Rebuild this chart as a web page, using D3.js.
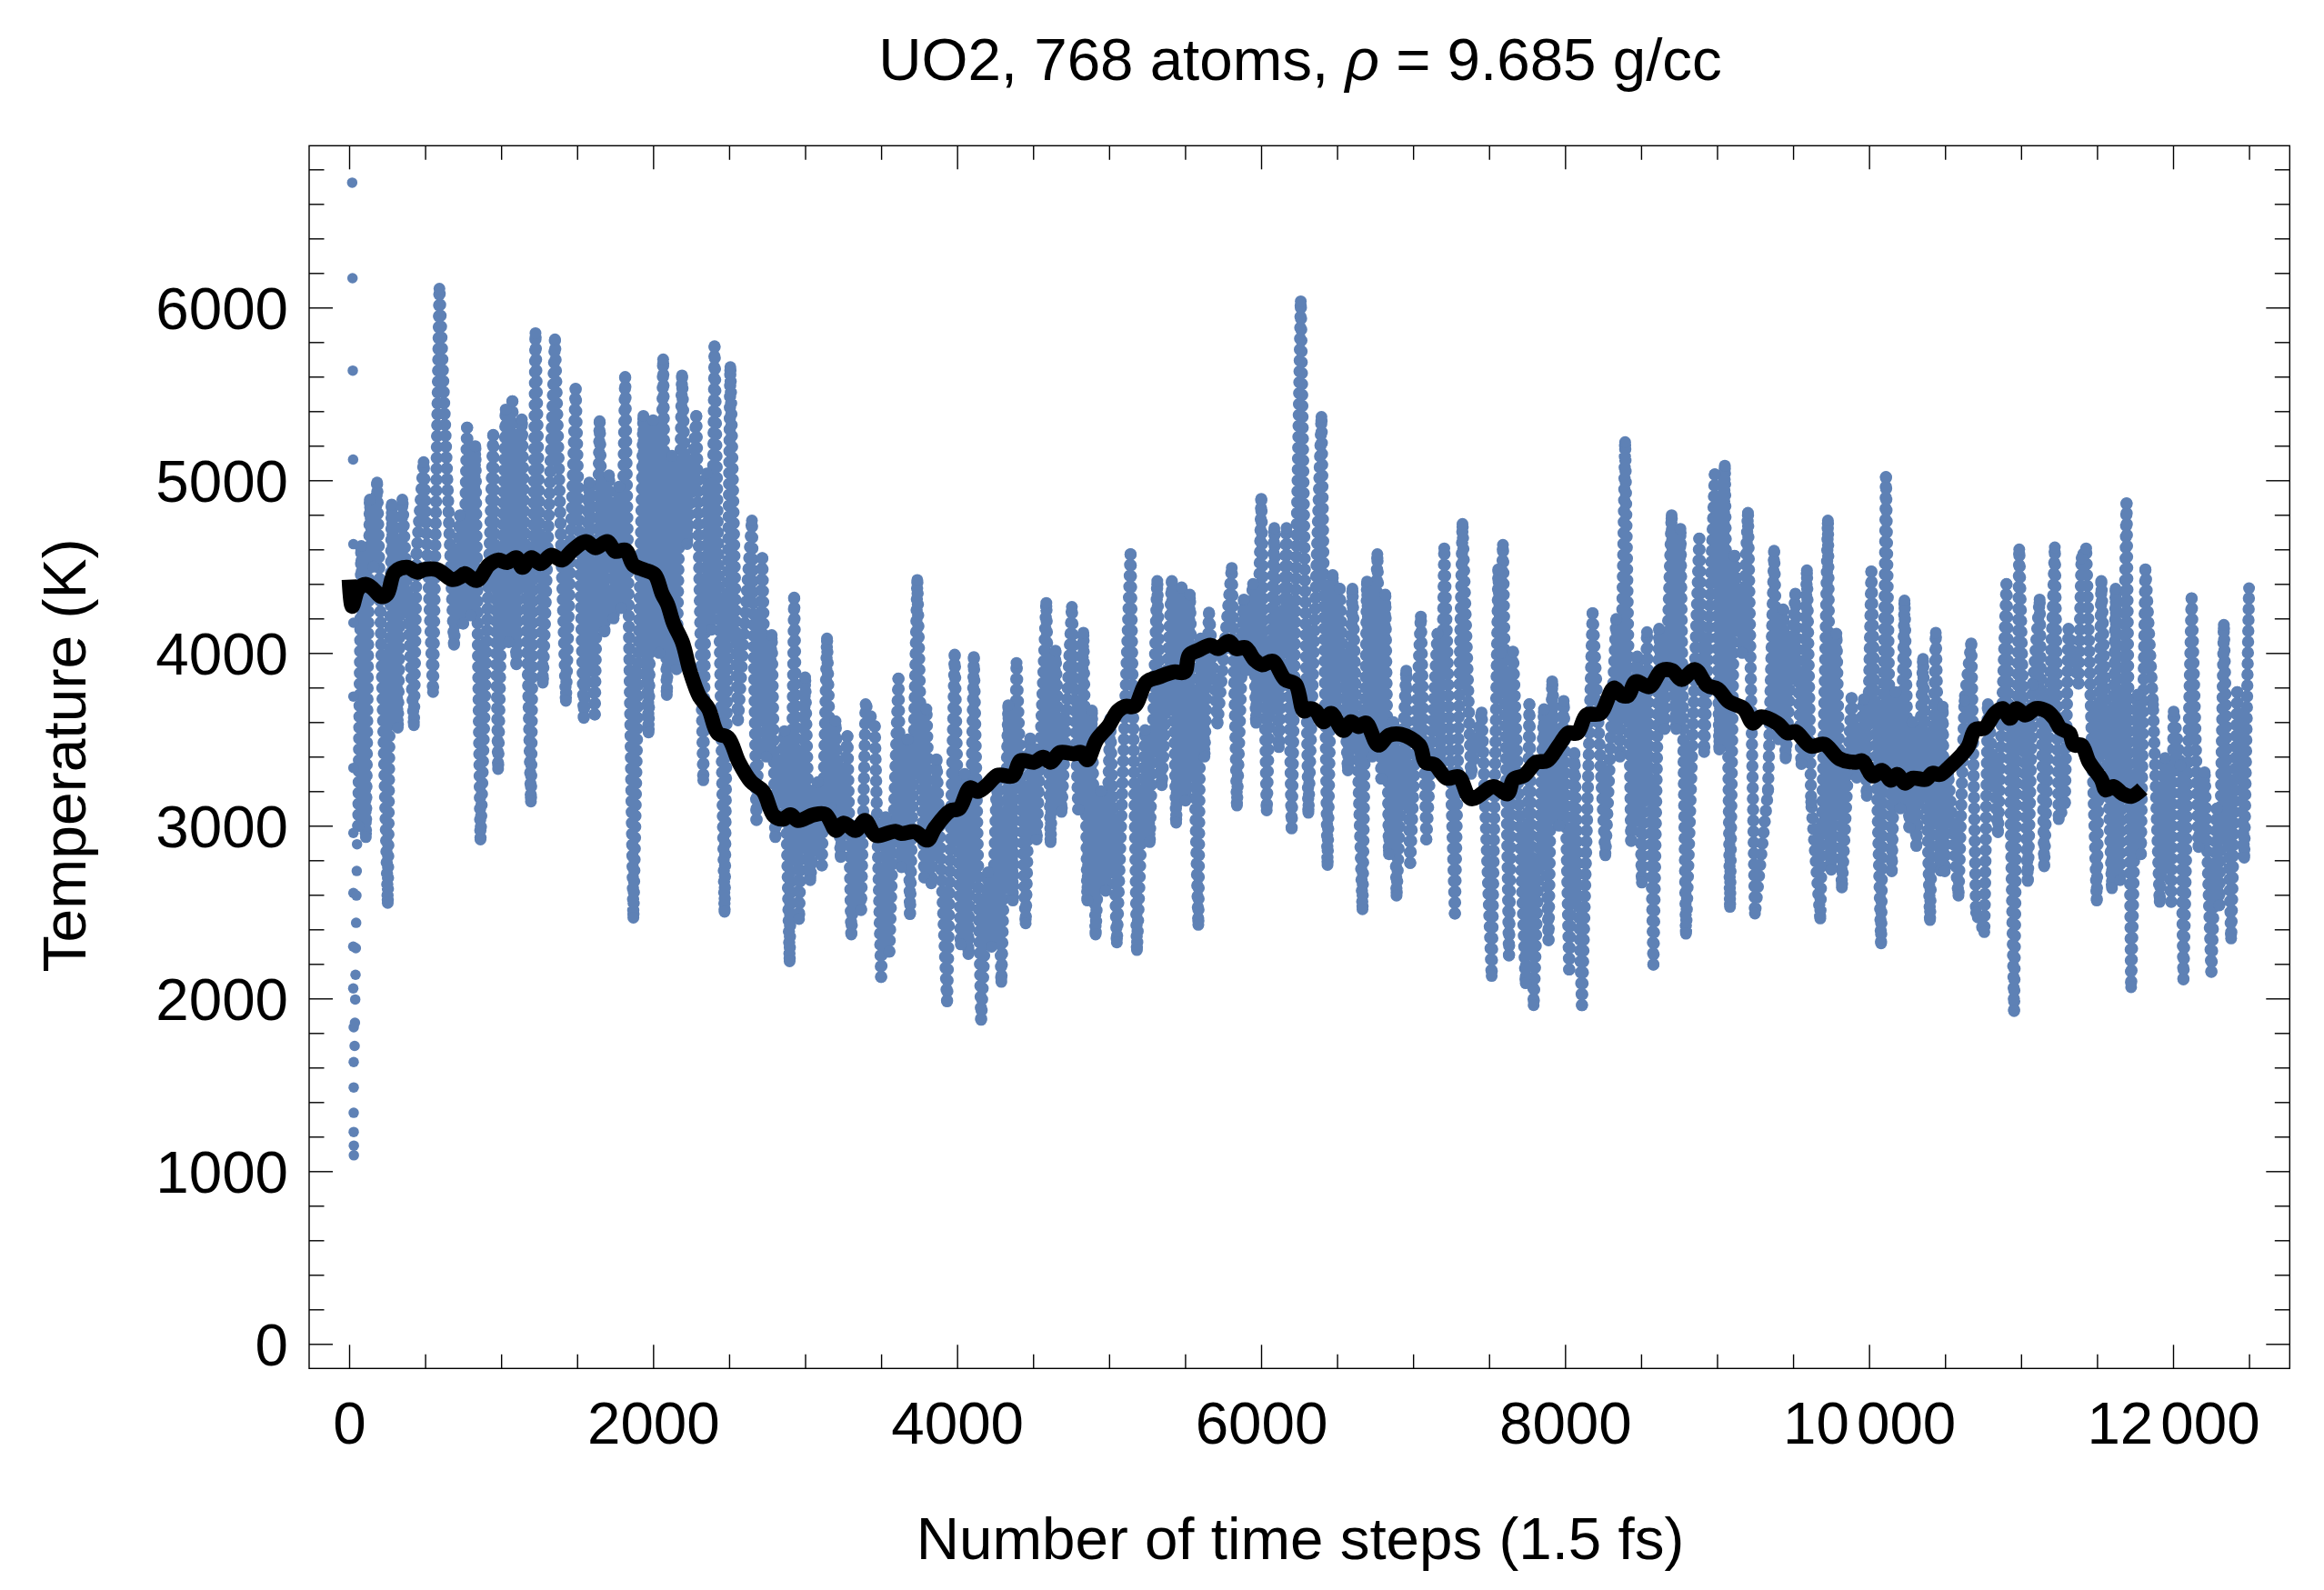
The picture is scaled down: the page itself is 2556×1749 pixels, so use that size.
<!DOCTYPE html>
<html><head><meta charset="utf-8">
<script src="https://cdn.jsdelivr.net/npm/d3@7"></script>
<style>html,body{margin:0;background:#fff}svg{display:block}text{font-family:"Liberation Sans",Arial,sans-serif;fill:#000}</style>
</head><body><svg id="c" width="2556" height="1749"></svg>
<script>
const titleText = ["UO2, 768 atoms, ", "ρ", " = 9.685 g/cc"];
const xLabel = "Number of time steps (1.5 fs)";
const yLabel = "Temperature (K)";
const xMajor = [0,2000,4000,6000,8000,10000,12000];
const xMinor = [500,1000,1500,2500,3000,3500,4500,5000,5500,6500,7000,7500,8500,9000,9500,10500,11000,11500,12500];
const yMajor = [0,1000,2000,3000,4000,5000,6000];
const yMinor = [200,400,600,800,1200,1400,1600,1800,2200,2400,2600,2800,3200,3400,3600,3800,4200,4400,4600,4800,5200,5400,5600,5800,6200,6400,6600,6800];

// isolated points at the start of the run
const startX = [20,22,24,26,28,28,28,28,28,28,27,27,30,30,30,30,30,31,31,36,38,40,42,44,46,48,50,52];
const startY = [6723,6170,5635,5120,4630,4175,3748,3335,2958,2611,2300,2058,1833,1632,1485,1338,1227,1148,1092,1725,1859,1994,2137,2291,2438,2596,2738,2893];

// turning points of the temperature trace
const stepX = [60,80,110,136,160,184,254,280,320,350,426,444,490,552,594,690,730,750,776,800,830,864,948,980,1030,1050,1074,1100,1136,1196,1226,1274,1354,1426,1490,1544,1580,1616,1648,1680,1710,1740,1776,1790,1816,1870,1936,1970,2000,2040,2066,2090,
2124,2154,2190,2224,2284,2330,2354,2384,2404,2470,2508,2558,2650,2680,2718,2744,2780,2804,2864,2898,2928,2960,3000,3034,3084,3110,3144,3174,3200,3234,3278,3304,3334,3368,3398,3458,3500,3530,3554,3614,3634,3674,3690,3738,3784,3798,3830,3864,3934,3984,4024,4050,4074,4110,4158,
4203,4227,4263,4291,4337,4367,4391,4451,4481,4523,4587,4615,4647,4687,4755,4797,4831,4857,4887,4911,4947,4977,5007,5051,5141,5183,5237,5267,5317,5347,5413,5441,5477,5503,5531,5587,5603,5627,5657,5713,5807,5841,5887,5903,5947,5967,6001,6037,6087,6117,6167,6201,6261,
6311,6397,6437,6471,6491,6517,6571,6601,6667,6697,6731,6765,6791,6817,6841,6871,6891,6955,6981,7051,7087,7161,7181,7205,7275,7325,7381,7451,7517,7561,7577,7591,7631,7657,7741,7765,7793,7861,7891,7915,7961,7991,8027,8061,8111,8181,8265,8337,8361,
8395,8435,8475,8505,8539,8581,8619,8655,8701,8731,8759,8795,8883,8915,8985,9015,9051,9085,9115,9165,9203,9249,9335,9375,9405,9435,9451,9515,9555,9591,9619,9679,9729,9751,9785,9821,9885,9919,9965,9985,10015,10079,10111,10149,10175,10205,10233,10265,10285,10311,10355,10401,10439,
10470,10484,10498,10520,10588,10628,10672,10704,10758,10782,10848,10904,10954,10988,11044,11078,11122,11152,11222,11248,11288,11312,11378,11398,11428,11498,11528,11598,11622,11652,11694,11724,11768,11788,11818,11868,11912,11948,11988,12004,12048,12068,12122,12168,12208,12252,12288,12304,12334,12382,12422,12468,12500];
const tempY = [3000,4620,2934,4888,4500,4987,2553,4860,3568,4888,3582,4578,5105,3774,6109,4048,4798,4170,5305,4217,5198,2920,5263,3328,5410,4062,5458,3935,5353,3140,5852,3828,5816,3723,5531,3624,4987,3644,5342,4124,5029,4200,4964,4260,5599,2468,5373,3540,5348,4000,5700,3757,
5142,3906,5607,4631,5373,3263,5040,4135,5776,2502,5655,3610,4767,3032,4550,3400,4104,2934,3548,2215,4321,2460,3859,2685,3253,2770,4084,3100,3605,2819,3520,2370,3000,2511,3704,3577,2124,3050,2271,3853,2760,3500,2488,4423,2700,3675,2666,3385,1983,3991,2313,3300,2257,3977,1876,
2730,2299,3300,2096,3698,2567,3943,2435,3506,2920,4290,2905,4014,3080,4267,3094,4118,2567,3667,2370,3200,2623,3619,2324,4572,2280,3554,2905,4417,3235,4417,3018,4380,3145,4338,2426,4084,3400,4234,3591,4493,3117,4310,3900,4400,3596,4893,3089,4724,3455,4724,2984,6036,
3075,5367,2773,4451,3600,4372,3320,4372,2516,4414,3400,4572,3272,4338,2835,3600,2595,3898,2784,4211,2920,4112,3300,4606,2491,4747,3300,3656,2130,4485,4000,4626,2248,4008,2088,3704,1961,3675,2336,3836,3000,3723,2167,3421,1961,4231,2829,4197,3400,
5221,2911,3980,2671,4121,2195,4141,3560,4798,3560,4719,2375,4662,3427,5034,3441,5085,2530,4564,4000,4812,2491,3201,4592,3500,4253,3390,4344,3357,4479,3137,2463,4767,2745,4112,2643,3740,3278,3732,3173,4473,2319,5020,2736,3774,3100,4304,2990,3600,2883,3966,2454,4118,
2740,3690,2736,3300,2595,3723,4056,2497,2384,3704,2962,4400,1927,4600,2680,3816,4310,2765,4612,3038,3130,4141,3822,4550,4606,2567,4417,2638,4372,2685,4868,2065,3760,2835,4485,3700,2559,3393,2559,3661,3350,2110,4318,2877,3309,2153,3100,2539,4163,2347,3774,2815,4375];

// running average
const avgX = [0,20,60,110,160,210,250,300,380,450,490,580,680,730,760,840,920,980,1040,1100,1140,1200,1260,1330,1400,1470,1560,1620,1700,1750,1820,1870,1940,2010,2060,
2094,2134,2194,2244,2304,2364,2424,2494,2564,2644,2724,2794,2854,2904,2954,3054,3134,3204,3254,3334,3394,3464,3594,3634,3724,3804,3854,3954,4014,4084,4134,
4187,4267,4367,4417,4507,4567,4617,4677,4767,4817,4857,4917,4997,5057,5107,5167,5247,5327,5427,5497,5527,5587,5667,5717,5787,5837,5897,5957,6007,6077,6157,6227,
6281,6321,6361,6411,6461,6541,6591,6641,6691,6771,6841,6921,7041,7081,7141,7221,7301,7381,7531,7621,7661,7731,7811,7881,7961,8021,8081,8141,8231,8321,
8375,8415,8465,8555,8635,8705,8765,8855,8935,9005,9075,9175,9235,9285,9395,9465,9515,9615,9705,9805,9915,9955,10025,10085,10145,10185,10235,10285,10375,10415,
10468,10528,10648,10698,10758,10828,10878,10928,10968,11028,11098,11168,11218,11258,11318,11348,11398,11448,11528,11558,11608,11668,11728,11798];
const avgY = [4425,4270,4370,4397,4369,4327,4341,4468,4496,4468,4482,4482,4425,4440,4459,4420,4510,4538,4524,4552,4496,4552,4518,4566,4538,4595,4645,4609,4645,4589,4595,4510,4482,4454,4341,
4284,4172,4059,3890,3749,3678,3537,3509,3368,3255,3199,3058,3038,3063,3030,3063,3066,2973,3015,2973,3030,2945,2968,2955,2965,2917,2987,3086,3100,3219,3199,
3227,3292,3289,3376,3368,3396,3368,3424,3416,3424,3382,3495,3579,3664,3692,3692,3833,3861,3890,3890,3988,4016,4045,4025,4067,4025,4031,3960,3932,3952,3847,3819,
3664,3678,3664,3602,3650,3551,3602,3574,3594,3467,3523,3529,3467,3368,3354,3275,3283,3156,3227,3185,3269,3292,3368,3376,3467,3537,3537,3641,3650,3797,
3754,3754,3833,3805,3898,3898,3847,3904,3813,3791,3720,3678,3594,3630,3594,3537,3545,3461,3472,3388,3368,3376,3289,3320,3264,3297,3247,3275,3269,3303,
3297,3340,3453,3557,3565,3650,3678,3622,3678,3641,3678,3664,3622,3565,3537,3467,3467,3368,3269,3207,3227,3185,3171,3213];

const blue = "#5E81B5";
const frame = {l:340, r:2518.3, t:160.3, b:1505.3};
const x = d3.scaleLinear().domain([0,12000]).range([384,2390]);
const y = d3.scaleLinear().domain([0,6000]).range([1478.3,338.3]);
const svg = d3.select("#c");

const trace = stepX.map((v,i)=>[v,tempY[i]]);
const line = d3.line().x(d=>x(d[0])).y(d=>y(d[1]));

svg.append("path").attr("d",line(trace)).attr("fill","none").attr("stroke",blue)
  .attr("stroke-width",13.5).attr("stroke-linecap","round").attr("stroke-linejoin","round").attr("stroke-dasharray","0 12");
svg.append("g").selectAll("circle").data(trace).join("circle")
  .attr("cx",d=>x(d[0])).attr("cy",d=>y(d[1])).attr("r",6.5).attr("fill",blue);
svg.append("g").selectAll("circle").data(startX).join("circle")
  .attr("cx",d=>x(d)).attr("cy",(d,i)=>y(startY[i])).attr("r",5.75).attr("fill",blue);

svg.append("path").attr("d",d3.line().curve(d3.curveCatmullRom.alpha(0.5)).x(d=>x(d[0])).y(d=>y(d[1]))(avgX.map((v,i)=>[v,avgY[i]]))).attr("fill","none").attr("stroke","#000")
  .attr("stroke-width",16.5).attr("stroke-linejoin","round").attr("stroke-linecap","butt");

svg.append("rect").attr("x",frame.l).attr("y",frame.t).attr("width",frame.r-frame.l).attr("height",frame.b-frame.t)
  .attr("fill","none").attr("stroke","#000").attr("stroke-width",1.4);

function styleAxis(g){ g.select(".domain").remove(); g.selectAll("line").attr("stroke","#000").attr("stroke-width",1.4); g.selectAll("text").attr("font-size",65.5).attr("font-family","Liberation Sans"); }
const fmt = d => String(d);
function add(axis, tx, ty){ return svg.append("g").attr("transform",`translate(${tx},${ty})`).call(axis).call(styleAxis); }

const botMaj = add(d3.axisBottom(x).tickValues(xMajor).tickSizeInner(-26).tickSizeOuter(0).tickPadding(36).tickFormat(fmt),0,frame.b);
add(d3.axisBottom(x).tickValues(xMinor).tickSizeInner(-15.5).tickSizeOuter(0).tickFormat(""),0,frame.b);
add(d3.axisTop(x).tickValues(xMajor).tickSizeInner(-26).tickSizeOuter(0).tickFormat(""),0,frame.t);
add(d3.axisTop(x).tickValues(xMinor).tickSizeInner(-15.5).tickSizeOuter(0).tickFormat(""),0,frame.t);
const leftMaj = add(d3.axisLeft(y).tickValues(yMajor).tickSizeInner(-26).tickSizeOuter(0).tickPadding(23).tickFormat(fmt),frame.l,0);
add(d3.axisLeft(y).tickValues(yMinor).tickSizeInner(-16.5).tickSizeOuter(0).tickFormat(""),frame.l,0);
add(d3.axisRight(y).tickValues(yMajor).tickSizeInner(-26).tickSizeOuter(0).tickFormat(""),frame.r,0);
add(d3.axisRight(y).tickValues(yMinor).tickSizeInner(-16.5).tickSizeOuter(0).tickFormat(""),frame.r,0);

botMaj.selectAll("text").attr("dy",null).attr("y",83).filter(d=>d>=10000).each(function(d){
  const s=String(d), t=d3.select(this).text(null);
  t.append("tspan").text(s.slice(0,2));
  t.append("tspan").attr("dx",8).text(s.slice(2));
});
leftMaj.selectAll("text").attr("dy",null).attr("y",23);

const title = svg.append("text").attr("x",1430).attr("y",88).attr("text-anchor","middle").attr("font-size",65.5);
title.append("tspan").text(titleText[0]);
title.append("tspan").attr("font-style","italic").text(titleText[1]);
title.append("tspan").text(titleText[2]);
svg.append("text").attr("x",1430).attr("y",1715).attr("text-anchor","middle").attr("font-size",65.5).text(xLabel);
svg.append("text").attr("transform","translate(94,831) rotate(-90)").attr("text-anchor","middle").attr("font-size",66).text(yLabel);
</script></body></html>
